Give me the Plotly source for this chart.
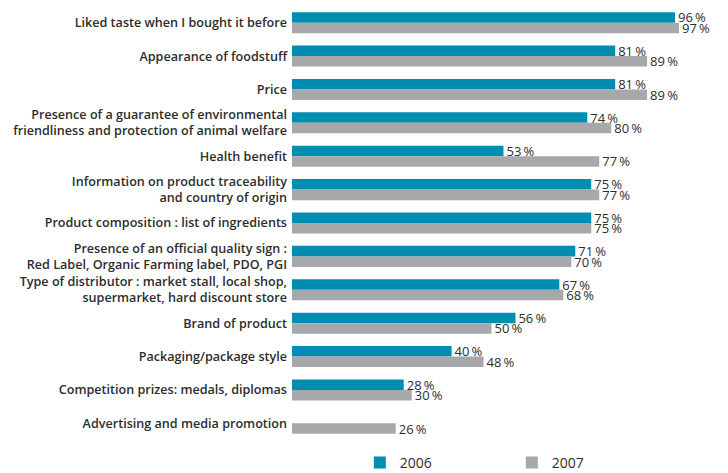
import plotly.graph_objects as go

categories = [
    "Liked taste when I bought it before",
    "Appearance of foodstuff",
    "Price",
    "Presence of a guarantee of environmental<br>friendliness and protection of animal welfare",
    "Health benefit",
    "Information on product traceability<br>and country of origin",
    "Product composition : list of ingredients",
    "Presence of an official quality sign :<br>Red Label, Organic Farming label, PDO, PGI",
    "Type of distributor : market stall, local shop,<br>supermarket, hard discount store",
    "Brand of product",
    "Packaging/package style",
    "Competition prizes: medals, diplomas",
    "Advertising and media promotion",
]
values_2006 = [96, 81, 81, 74, 53, 75, 75, 71, 67, 56, 40, 28, None]
values_2007 = [97, 89, 89, 80, 77, 77, 75, 70, 68, 50, 48, 30, 26]

TEAL = "#008db2"
GRAY = "#a7a8ac"
TXT = "#2d2d2d"
FONT = "Open Sans"


def labels(vals):
    return ["" if v is None else f"{v}\u2009%" for v in vals]


fig = go.Figure()
fig.add_trace(go.Bar(
    y=categories, x=values_2006, name="2006", orientation="h",
    marker=dict(color=TEAL, line=dict(width=0)),
    text=labels(values_2006), textposition="outside", cliponaxis=False,
    constraintext="none",
    textfont=dict(family=FONT, size=13, color=TXT),
))
fig.add_trace(go.Bar(
    y=categories, x=values_2007, name="2007", orientation="h",
    marker=dict(color=GRAY, line=dict(width=0)),
    text=labels(values_2007), textposition="outside", cliponaxis=False,
    constraintext="none",
    textfont=dict(family=FONT, size=13, color=TXT),
))

fig.update_layout(
    width=728, height=473,
    margin=dict(l=292, r=37, t=6, b=33, autoexpand=False),
    paper_bgcolor="white", plot_bgcolor="white",
    barmode="group", bargap=0.37, bargroupgap=0,
    font=dict(family=FONT, color=TXT),
    xaxis=dict(range=[0, 100], visible=False, fixedrange=True),
    yaxis=dict(autorange="reversed", showgrid=False, zeroline=False,
               showline=False, ticks="", ticklabelstandoff=4,
               tickfont=dict(family=FONT, size=12.6, color=TXT, weight=600)),
    legend=dict(orientation="h", x=0.17, xanchor="left", y=-0.053,
                yanchor="middle", entrywidth=107, entrywidthmode="pixels",
                font=dict(family=FONT, size=14, color=TXT),
                traceorder="normal", bgcolor="rgba(0,0,0,0)"),
)

fig.write_html("out.html")
